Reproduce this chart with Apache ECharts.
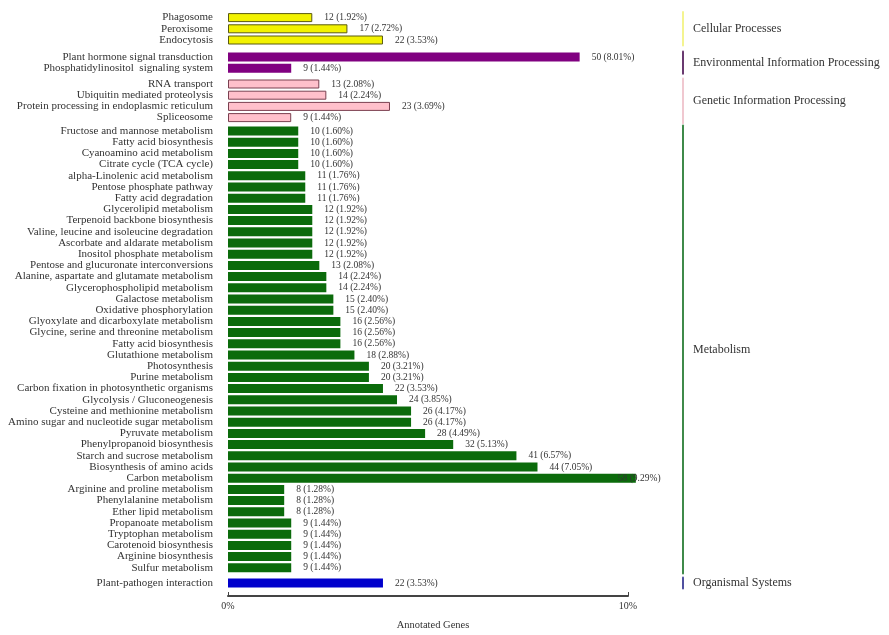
<!DOCTYPE html>
<html>
<head>
<meta charset="utf-8">
<script src="https://cdn.jsdelivr.net/npm/echarts@6/dist/echarts.min.js"></script>
<style>html,body{margin:0;padding:0;background:#fff}#c{width:889px;height:635px}</style>
</head>
<body>
<div id="c"></div>
<script>
// ---- data ----
const groupNames = ["Cellular Processes", "Environmental Information Processing", "Genetic Information Processing", "Metabolism", "Organismal Systems"];

const cellularCats = ["Phagosome", "Peroxisome", "Endocytosis"];
const cellularCounts = [12, 17, 22];
const cellularPct = [1.92, 2.72, 3.53];

const envCats = ["Plant hormone signal transduction", "Phosphatidylinositol  signaling system"];
const envCounts = [50, 9];
const envPct = [8.01, 1.44];

const geneticCats = ["RNA transport", "Ubiquitin mediated proteolysis", "Protein processing in endoplasmic reticulum", "Spliceosome"];
const geneticCounts = [13, 14, 23, 9];
const geneticPct = [2.08, 2.24, 3.69, 1.44];

const metabCats = [
  "Fructose and mannose metabolism", "Fatty acid biosynthesis", "Cyanoamino acid metabolism", "Citrate cycle (TCA cycle)",
  "alpha-Linolenic acid metabolism", "Pentose phosphate pathway", "Fatty acid degradation", "Glycerolipid metabolism",
  "Terpenoid backbone biosynthesis", "Valine, leucine and isoleucine degradation", "Ascorbate and aldarate metabolism",
  "Inositol phosphate metabolism", "Pentose and glucuronate interconversions", "Alanine, aspartate and glutamate metabolism",
  "Glycerophospholipid metabolism", "Galactose metabolism", "Oxidative phosphorylation", "Glyoxylate and dicarboxylate metabolism",
  "Glycine, serine and threonine metabolism", "Fatty acid biosynthesis", "Glutathione metabolism", "Photosynthesis",
  "Purine metabolism", "Carbon fixation in photosynthetic organisms", "Glycolysis / Gluconeogenesis",
  "Cysteine and methionine metabolism", "Amino sugar and nucleotide sugar metabolism", "Pyruvate metabolism",
  "Phenylpropanoid biosynthesis", "Starch and sucrose metabolism", "Biosynthesis of amino acids", "Carbon metabolism",
  "Arginine and proline metabolism", "Phenylalanine metabolism", "Ether lipid metabolism", "Propanoate metabolism",
  "Tryptophan metabolism", "Carotenoid biosynthesis", "Arginine biosynthesis", "Sulfur metabolism"
];
const metabCounts = [10, 10, 10, 10, 11, 11, 11, 12, 12, 12, 12, 12, 13, 14, 14, 15, 15, 16, 16, 16, 18, 20, 20, 22, 24, 26, 26, 28, 32, 41, 44, 58, 8, 8, 8, 9, 9, 9, 9, 9];
const metabPct = [1.60, 1.60, 1.60, 1.60, 1.76, 1.76, 1.76, 1.92, 1.92, 1.92, 1.92, 1.92, 2.08, 2.24, 2.24, 2.40, 2.40, 2.56, 2.56, 2.56, 2.88, 3.21, 3.21, 3.53, 3.85, 4.17, 4.17, 4.49, 5.13, 6.57, 7.05, 9.29, 1.28, 1.28, 1.28, 1.44, 1.44, 1.44, 1.44, 1.44];

const organCats = ["Plant-pathogen interaction"];
const organCounts = [22];
const organPct = [3.53];

const axisTicks = [0, 10]; // percent tick labels

// ---- styles / layout ----
const font = "Liberation Serif";
const groups = [
  {cats: cellularCats, counts: cellularCounts, pct: cellularPct, fill: "#f2f200", border: "#5a5a10", bw: 1, line: "#f4f490"},
  {cats: envCats, counts: envCounts, pct: envPct, fill: "#800080", border: "#800080", bw: 0, line: "#6a3a70"},
  {cats: geneticCats, counts: geneticCounts, pct: geneticPct, fill: "#ffc0cb", border: "#7a4050", bw: 1, line: "#f0c8d0"},
  {cats: metabCats, counts: metabCounts, pct: metabPct, fill: "#0b6b0b", border: "#0b6b0b", bw: 0, line: "#3f8a4a"},
  {cats: organCats, counts: organCounts, pct: organPct, fill: "#0000cc", border: "#0000cc", bw: 0, line: "#5050a0"}
];
const rowH = 11.2;
const tops = [12, 51.4, 78.4, 125.4, 577.4];
const left = 228, barRight = 222;

const grid = [], xAxis = [], yAxis = [], series = [];
groups.forEach((g, i) => {
  grid.push({left: left, right: barRight, top: tops[i], height: g.cats.length * rowH});
  xAxis.push({type: "value", gridIndex: i, min: 0, max: 10, show: false});
  yAxis.push({
    type: "category", gridIndex: i, data: g.cats, inverse: true,
    axisLine: {show: false}, axisTick: {show: false},
    axisLabel: {interval: 0, fontFamily: font, fontSize: 11, color: "#333", margin: 15}
  });
  yAxis.push({
    type: "category", gridIndex: i, data: [groupNames[i]], position: "right", offset: 16,
    axisLine: {show: true, lineStyle: {color: g.line, width: 2}}, axisTick: {show: false},
    axisLabel: {interval: 0, fontFamily: font, fontSize: 12, color: "#333", margin: 10}
  });
  series.push({
    type: "bar", xAxisIndex: i, yAxisIndex: 2 * i, barWidth: 9,
    data: g.pct.map((v, k) => {
      const item = {value: v};
      if (v > 9) item.label = {distance: -18};
      return item;
    }),
    itemStyle: {color: g.fill, borderColor: g.border, borderWidth: g.bw},
    label: {
      show: true, position: "right", distance: 12, fontFamily: font, fontSize: 9.5, color: "#333",
      formatter: p => g.counts[p.dataIndex] + " (" + g.pct[p.dataIndex].toFixed(2) + "%)"
    },
    animation: false, clip: false
  });
});

// visible percent axis
const ai = groups.length;
grid.push({left: left, width: 400, top: 559, height: 37});
xAxis.push({
  type: "value", gridIndex: ai, min: axisTicks[0], max: axisTicks[1], interval: 10,
  axisLine: {show: true, lineStyle: {color: "#444", width: 2}},
  axisTick: {show: true, inside: true, length: 4, lineStyle: {color: "#444"}},
  splitLine: {show: false},
  axisLabel: {fontFamily: font, fontSize: 10, color: "#333", margin: 5, formatter: "{value}%"},
  name: "Annotated Genes", nameLocation: "middle", nameGap: 24,
  nameTextStyle: {fontFamily: font, fontSize: 10.5, color: "#333", padding: [0, 0, 0, 10]}
});
yAxis.push({type: "category", gridIndex: ai, data: [""], show: false});

const chart = echarts.init(document.getElementById("c"), null, {renderer: "canvas"});
chart.setOption({animation: false, grid, xAxis, yAxis, series});
</script>
</body>
</html>
